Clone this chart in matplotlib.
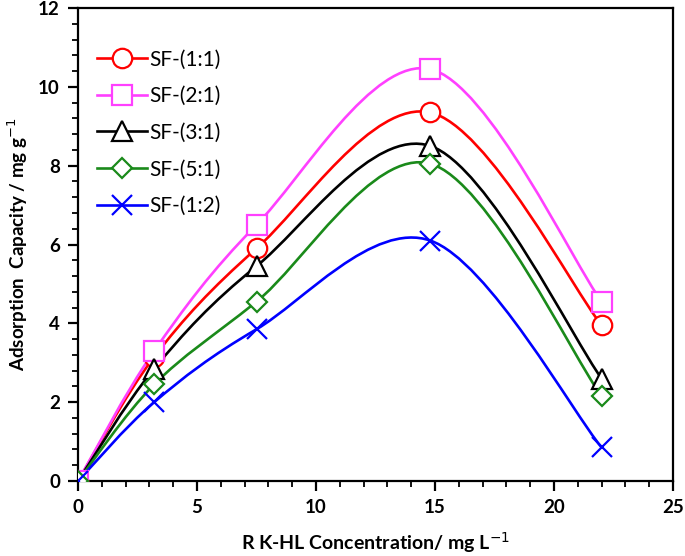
import numpy as np
import matplotlib.pyplot as plt
from matplotlib.path import Path
from matplotlib.patches import PathPatch
from matplotlib.lines import Line2D
from matplotlib.ticker import MultipleLocator

plt.rcParams['font.family'] = ['Lato', 'DejaVu Sans']

conc = [0, 3.2, 7.5, 14.8, 22.0]
sf_1_1 = [0, 3.15, 5.9, 9.35, 3.95]
sf_2_1 = [0, 3.3, 6.5, 10.45, 4.55]
sf_3_1 = [0, 2.85, 5.45, 8.5, 2.6]
sf_5_1 = [0, 2.45, 4.55, 8.05, 2.15]
sf_1_2 = [0, 2.0, 3.85, 6.1, 0.85]

series = [
    ("SF-(1:1)", sf_1_1, "#ff0000", "o", 14),
    ("SF-(2:1)", sf_2_1, "#ff40ff", "s", 15),
    ("SF-(3:1)", sf_3_1, "#000000", "^", 14),
    ("SF-(5:1)", sf_5_1, "#1a8a1a", "D", 10),
    ("SF-(1:2)", sf_1_2, "#0000ff", "x", 14),
]


def smooth_path(xs, ys):
    # excel-like smoothed line: cubic bezier through the points
    p = np.column_stack([xs, ys]).astype(float)
    ext = np.vstack([p[0], p, p[-1]])
    verts = [p[0]]
    codes = [Path.MOVETO]
    for i in range(len(p) - 1):
        p0, p1, p2, p3 = ext[i], ext[i + 1], ext[i + 2], ext[i + 3]
        verts += [p1 + (p2 - p0) / 6, p2 - (p3 - p1) / 6, p2]
        codes += [Path.CURVE4] * 3
    return Path(verts, codes)


fig = plt.figure(figsize=(6.85, 5.56), dpi=100)
ax = fig.add_axes([0.1139, 0.1349, 0.8686, 0.8507])

handles = []
for label, ys, col, mk, ms in series:
    ax.add_patch(PathPatch(smooth_path(conc, ys), fill=False, edgecolor=col,
                           lw=1.9, zorder=2))
    if mk == "x":
        ax.plot(conc, ys, ls="none", marker=mk, ms=ms, mew=1.6, color=col, zorder=3)
    else:
        ax.plot(conc, ys, ls="none", marker=mk, ms=ms, mew=1.6, mec=col,
                mfc="white", zorder=3)
    handles.append(Line2D([], [], color=col, lw=1.9, marker=mk, ms=ms,
                          mew=1.6, mec=col, mfc="white" if mk != "x" else col))

ax.set_xlim(0, 25)
ax.set_ylim(0, 12)
ax.xaxis.set_major_locator(MultipleLocator(5))
ax.xaxis.set_minor_locator(MultipleLocator(1))
ax.yaxis.set_major_locator(MultipleLocator(2))
ax.yaxis.set_minor_locator(MultipleLocator(0.4))
ax.tick_params(which="major", direction="out", length=7, width=1.6,
               labelsize=13.5, pad=6)
ax.tick_params(which="minor", direction="out", length=4, width=1.3)
for lbl in ax.get_xticklabels() + ax.get_yticklabels():
    lbl.set_fontweight("bold")
for sp in ax.spines.values():
    sp.set_linewidth(1.6)

ax.set_xlabel("R K-HL Concentration/ mg L$^{-1}$", fontsize=14,
              fontweight="bold", labelpad=10)
ax.set_ylabel("Adsorption  Capacity / mg g$^{-1}$", fontsize=13.5,
              fontweight="bold", labelpad=6)

ax.legend(handles, [s[0] for s in series], loc="upper left",
          bbox_to_anchor=(0.018, 0.93), frameon=False, fontsize=15,
          handlelength=2.4, handletextpad=0.1, labelspacing=0.8,
          borderaxespad=0)

fig.savefig("out.png", dpi=100)
